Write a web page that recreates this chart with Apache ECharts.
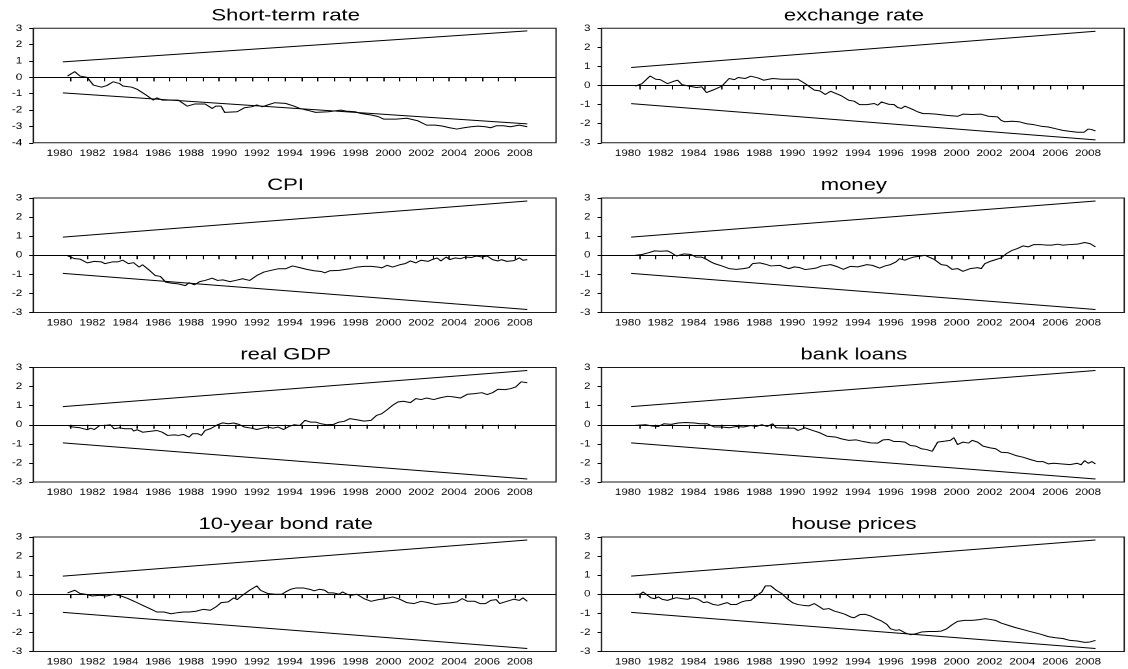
<!DOCTYPE html>
<html>
<head>
<meta charset="utf-8">
<script src="https://cdn.jsdelivr.net/npm/echarts@6/dist/echarts.min.js"></script>
<style>
  html, body { margin: 0; padding: 0; background: #fff; overflow: hidden; }
  #wrap { width: 1128px; height: 669px; overflow: hidden; position: relative; }
  #chart { height: 669px; transform-origin: 0 0; }
</style>
</head>
<body>
<div id="wrap"><div id="chart"></div></div>
<script>
// CUSUM of recursive residuals, quarterly, with 5% significance bounds.

const yearLabels = [1980, 1982, 1984, 1986, 1988, 1990, 1992, 1994, 1996, 1998, 2000, 2002, 2004, 2006, 2008];
const tickYears = [1980, 1981, 1982, 1983, 1984, 1985, 1986, 1987, 1988, 1989, 1990, 1991, 1992, 1993,
  1994, 1995, 1996, 1997, 1998, 1999, 2000, 2001, 2002, 2003, 2004, 2005, 2006, 2007];

// 5% bounds: straight lines from the first to the last observation
const boundYears = [1980.0, 2008.25];
const upperBound = [0.948, 2.844];
const lowerBound = [-0.948, -2.844];

const shortRateYears = [1980.28, 1980.72, 1981.04, 1981.48, 1981.85, 1982.35, 1982.67, 1983.06, 1983.43, 1983.65,
  1984.19, 1984.52, 1985.06, 1985.5, 1985.71, 1986.04, 1987.02, 1987.56, 1988.0, 1988.65, 1989.08, 1989.3, 1989.63,
  1989.84, 1990.6, 1991.04, 1991.47, 1991.8, 1992.13, 1992.45, 1992.89, 1993.54, 1994.08, 1994.41, 1994.84, 1995.38,
  1996.15, 1996.91, 1997.23, 1997.77, 1998.1, 1998.75, 1999.19, 1999.51, 2000.27, 2000.93, 2001.58, 2002.12, 2002.66,
  2003.1, 2003.53, 2003.97, 2004.4, 2004.84, 2005.27, 2005.71, 2006.03, 2006.36, 2006.79, 2007.23, 2007.77, 2008.25];
const shortRateValues = [0.08, 0.35, 0.08, 0.0, -0.47, -0.6, -0.5, -0.27, -0.37, -0.53,
  -0.6, -0.73, -1.08, -1.39, -1.25, -1.39, -1.39, -1.76, -1.63, -1.63, -1.9, -1.76, -1.76,
  -2.14, -2.1, -1.86, -1.8, -1.69, -1.8, -1.69, -1.55, -1.59, -1.76, -1.9, -2.0, -2.14,
  -2.1, -2.0, -2.06, -2.1, -2.2, -2.3, -2.4, -2.55, -2.55, -2.5, -2.65, -2.92, -2.92,
  -2.98, -3.08, -3.16, -3.08, -3.02, -2.98, -3.02, -3.08, -2.96, -2.96, -3.02, -2.92, -3.02];

const exchangeYears = [1980.26, 1980.66, 1981.15, 1981.5, 1981.77, 1982.21, 1982.65, 1982.83, 1983.09, 1983.53,
  1983.97, 1984.3, 1984.59, 1984.97, 1985.19, 1985.52, 1985.96, 1986.29, 1986.51, 1986.95, 1987.28, 1987.72, 1988.06,
  1988.61, 1989.16, 1989.93, 1990.15, 1990.59, 1990.92, 1991.15, 1991.48, 1991.81, 1992.14, 1992.47, 1992.8, 1993.24,
  1993.57, 1993.9, 1994.35, 1994.79, 1995.01, 1995.23, 1995.67, 1996.0, 1996.22, 1996.44, 1996.66, 1997.1, 1997.44,
  1997.77, 1998.1, 1998.54, 1999.2, 1999.86, 2000.19, 2000.75, 2001.3, 2001.74, 2002.29, 2002.51, 2002.73, 2003.17,
  2003.62, 2004.06, 2004.5, 2004.94, 2005.38, 2005.82, 2006.26, 2006.7, 2007.15, 2007.55, 2007.8, 2008.0, 2008.25];
const exchangeValues = [-0.03, 0.1, 0.5, 0.33, 0.31, 0.1, 0.24, 0.28, 0.05, -0.03,
  -0.1, -0.07, -0.37, -0.24, -0.16, -0.03, 0.37, 0.31, 0.42, 0.37, 0.49, 0.4, 0.28,
  0.37, 0.33, 0.33, 0.33, 0.1, -0.1, -0.24, -0.28, -0.47, -0.3, -0.42, -0.54, -0.77,
  -0.82, -1.0, -1.0, -0.94, -1.03, -0.86, -0.98, -1.0, -1.15, -1.2, -1.08, -1.24, -1.38,
  -1.47, -1.47, -1.5, -1.56, -1.61, -1.5, -1.52, -1.5, -1.61, -1.64, -1.82, -1.9, -1.87,
  -1.9, -2.0, -2.05, -2.13, -2.17, -2.26, -2.35, -2.4, -2.45, -2.45, -2.28, -2.3, -2.38];

const cpiYears = [1980.28, 1980.72, 1981.04, 1981.48, 1981.91, 1982.35, 1982.56, 1983.0, 1983.32, 1983.65,
  1983.98, 1984.3, 1984.63, 1984.85, 1985.28, 1985.61, 1985.93, 1986.26, 1986.58, 1987.02, 1987.45, 1987.67, 1988.0,
  1988.32, 1988.65, 1989.08, 1989.41, 1989.73, 1990.17, 1990.5, 1990.93, 1991.36, 1991.8, 1992.23, 1992.67, 1993.1,
  1993.54, 1993.97, 1994.41, 1994.84, 1995.28, 1995.71, 1995.93, 1996.25, 1996.8, 1997.45, 1997.88, 1998.32, 1998.75,
  1999.19, 1999.4, 1999.73, 2000.06, 2000.49, 2000.82, 2001.14, 2001.47, 2001.79, 2002.23, 2002.45, 2002.77, 2002.99,
  2003.32, 2003.53, 2003.86, 2004.18, 2004.51, 2004.84, 2005.16, 2005.49, 2005.81, 2006.14, 2006.47, 2006.68, 2007.01,
  2007.44, 2007.77, 2007.99, 2008.25];
const cpiValues = [-0.03, -0.18, -0.2, -0.4, -0.32, -0.35, -0.44, -0.35, -0.35, -0.26,
  -0.44, -0.39, -0.62, -0.5, -0.8, -1.06, -1.11, -1.41, -1.46, -1.5, -1.59, -1.44, -1.55,
  -1.38, -1.32, -1.2, -1.32, -1.29, -1.38, -1.32, -1.23, -1.32, -1.06, -0.88, -0.79, -0.71,
  -0.71, -0.56, -0.65, -0.74, -0.81, -0.85, -0.92, -0.81, -0.79, -0.71, -0.62, -0.58, -0.58,
  -0.62, -0.66, -0.53, -0.62, -0.5, -0.44, -0.3, -0.4, -0.26, -0.32, -0.23, -0.14, -0.3,
  -0.09, -0.23, -0.14, -0.18, -0.09, -0.12, -0.04, -0.09, -0.04, -0.23, -0.3, -0.23, -0.32,
  -0.28, -0.14, -0.26, -0.23];

const moneyYears = [1980.26, 1980.66, 1981.1, 1981.43, 1981.77, 1982.21, 1982.43, 1982.76, 1983.2, 1983.64,
  1983.97, 1984.3, 1984.52, 1984.86, 1985.08, 1985.52, 1985.96, 1986.4, 1986.84, 1987.17, 1987.39, 1987.83, 1988.17,
  1988.5, 1989.05, 1989.27, 1989.6, 1989.93, 1990.26, 1990.59, 1991.04, 1991.26, 1991.59, 1992.14, 1992.58, 1992.91,
  1993.35, 1993.79, 1994.35, 1994.68, 1995.12, 1995.45, 1995.78, 1996.11, 1996.33, 1996.66, 1996.88, 1997.21, 1997.55,
  1997.88, 1998.1, 1998.43, 1998.87, 1999.2, 1999.53, 1999.86, 2000.19, 2000.64, 2001.08, 2001.3, 2001.52, 2001.85,
  2002.18, 2002.51, 2002.84, 2003.17, 2003.5, 2003.84, 2004.17, 2004.5, 2004.94, 2005.27, 2005.6, 2005.93, 2006.26,
  2006.7, 2007.15, 2007.59, 2007.92, 2008.25];
const moneyValues = [0.0, 0.04, 0.14, 0.23, 0.21, 0.23, 0.14, -0.04, 0.07, 0.04,
  -0.1, -0.1, -0.18, -0.35, -0.44, -0.56, -0.7, -0.74, -0.7, -0.65, -0.44, -0.4, -0.47,
  -0.56, -0.53, -0.61, -0.7, -0.61, -0.65, -0.75, -0.7, -0.67, -0.56, -0.49, -0.61, -0.74,
  -0.58, -0.61, -0.49, -0.53, -0.67, -0.56, -0.49, -0.35, -0.18, -0.26, -0.18, -0.09, -0.05,
  0.0, -0.09, -0.21, -0.49, -0.53, -0.74, -0.7, -0.84, -0.7, -0.65, -0.7, -0.44, -0.32,
  -0.23, -0.14, 0.09, 0.25, 0.35, 0.49, 0.44, 0.56, 0.56, 0.53, 0.53, 0.58, 0.53,
  0.56, 0.58, 0.67, 0.61, 0.44];

const gdpYears = [1980.28, 1980.61, 1981.04, 1981.48, 1981.69, 1981.91, 1982.24, 1982.56, 1982.89, 1983.11,
  1983.43, 1983.76, 1984.19, 1984.3, 1984.52, 1984.85, 1985.28, 1985.71, 1986.04, 1986.37, 1986.8, 1987.02, 1987.34,
  1987.67, 1987.89, 1988.21, 1988.43, 1988.65, 1988.97, 1989.41, 1989.73, 1990.06, 1990.39, 1990.71, 1991.04, 1991.47,
  1991.8, 1992.13, 1992.45, 1992.78, 1993.1, 1993.43, 1993.75, 1994.08, 1994.41, 1994.73, 1995.06, 1995.38, 1995.71,
  1996.04, 1996.47, 1996.8, 1997.12, 1997.45, 1997.88, 1998.32, 1998.75, 1999.08, 1999.4, 1999.73, 2000.06, 2000.38,
  2000.71, 2001.14, 2001.47, 2001.79, 2002.12, 2002.56, 2002.99, 2003.42, 2003.75, 2004.18, 2004.62, 2005.05, 2005.49,
  2005.81, 2006.14, 2006.47, 2006.9, 2007.23, 2007.55, 2007.88, 2008.25];
const gdpValues = [-0.03, -0.12, -0.16, -0.26, -0.18, -0.25, -0.04, -0.04, 0.0, -0.21,
  -0.16, -0.21, -0.21, -0.33, -0.26, -0.39, -0.35, -0.3, -0.39, -0.56, -0.53, -0.56, -0.51,
  -0.65, -0.47, -0.47, -0.56, -0.3, -0.21, 0.0, 0.1, 0.05, 0.09, 0.02, -0.12, -0.18,
  -0.25, -0.18, -0.12, -0.18, -0.12, -0.25, -0.09, 0.0, -0.04, 0.23, 0.14, 0.14, 0.05,
  0.0, 0.02, 0.14, 0.18, 0.32, 0.26, 0.19, 0.23, 0.49, 0.58, 0.79, 1.02, 1.19,
  1.23, 1.16, 1.37, 1.32, 1.4, 1.32, 1.42, 1.49, 1.46, 1.4, 1.6, 1.63, 1.68,
  1.58, 1.68, 1.86, 1.84, 1.89, 1.98, 2.25, 2.2];

const loansYears = [1980.26, 1980.88, 1981.32, 1981.66, 1981.99, 1982.43, 1982.87, 1983.31, 1983.86, 1984.19,
  1984.63, 1985.08, 1985.52, 1985.96, 1986.4, 1986.84, 1987.28, 1987.61, 1987.95, 1988.28, 1988.61, 1988.83, 1989.49,
  1989.93, 1990.15, 1990.59, 1991.04, 1991.48, 1991.92, 1992.47, 1992.8, 1993.24, 1993.68, 1994.12, 1994.57, 1995.01,
  1995.34, 1995.67, 1996.0, 1996.33, 1996.66, 1996.99, 1997.33, 1997.66, 1997.99, 1998.32, 1998.65, 1999.09, 1999.42,
  1999.64, 1999.86, 2000.19, 2000.53, 2000.75, 2001.08, 2001.41, 2001.85, 2002.18, 2002.51, 2002.95, 2003.39, 2003.84,
  2004.28, 2004.72, 2005.05, 2005.38, 2005.71, 2006.15, 2006.7, 2007.15, 2007.37, 2007.59, 2007.81, 2008.03, 2008.25];
const loansValues = [-0.03, 0.0, -0.07, -0.09, 0.05, 0.02, 0.09, 0.12, 0.09, 0.05,
  0.05, -0.12, -0.12, -0.16, -0.09, -0.12, -0.04, -0.09, 0.0, -0.09, 0.05, -0.16, -0.18,
  -0.18, -0.3, -0.16, -0.3, -0.42, -0.6, -0.65, -0.74, -0.82, -0.79, -0.88, -0.95, -0.96,
  -0.79, -0.77, -0.88, -0.88, -0.91, -1.09, -1.12, -1.26, -1.3, -1.39, -0.91, -0.86, -0.82,
  -0.68, -1.04, -0.91, -0.96, -0.82, -0.91, -1.12, -1.21, -1.26, -1.44, -1.47, -1.61, -1.7,
  -1.82, -1.93, -1.93, -2.05, -2.02, -2.05, -2.09, -2.02, -2.1, -1.88, -2.02, -1.93, -2.05];

const bondYears = [1980.28, 1980.72, 1981.04, 1981.37, 1981.8, 1982.24, 1982.67, 1983.11, 1983.54, 1983.98,
  1984.41, 1984.85, 1985.28, 1985.71, 1986.15, 1986.58, 1987.02, 1987.34, 1987.67, 1988.1, 1988.54, 1988.97, 1989.3,
  1989.63, 1990.06, 1990.39, 1990.6, 1990.93, 1991.36, 1991.8, 1992.02, 1992.45, 1992.89, 1993.32, 1993.54, 1993.86,
  1994.19, 1994.62, 1995.06, 1995.28, 1995.6, 1995.93, 1996.15, 1996.47, 1996.8, 1997.01, 1997.34, 1997.56, 1997.88,
  1998.32, 1998.75, 1999.19, 1999.62, 2000.06, 2000.49, 2000.93, 2001.36, 2001.79, 2002.23, 2002.66, 2003.1, 2003.53,
  2003.97, 2004.29, 2004.62, 2005.05, 2005.38, 2005.71, 2006.03, 2006.36, 2006.58, 2007.01, 2007.44, 2007.77, 2007.99,
  2008.25];
const bondValues = [0.07, 0.21, 0.04, 0.0, -0.09, -0.05, -0.09, 0.0, -0.09, -0.23,
  -0.4, -0.58, -0.75, -0.93, -0.93, -1.02, -0.96, -0.93, -0.93, -0.89, -0.79, -0.84, -0.67,
  -0.44, -0.4, -0.19, -0.28, -0.05, 0.21, 0.44, 0.21, 0.04, 0.0, 0.0, 0.12, 0.26,
  0.33, 0.33, 0.25, 0.18, 0.26, 0.21, 0.07, 0.07, 0.0, 0.12, -0.02, -0.05, 0.0,
  -0.23, -0.37, -0.28, -0.23, -0.14, -0.26, -0.44, -0.49, -0.37, -0.44, -0.54, -0.49, -0.46,
  -0.4, -0.23, -0.37, -0.37, -0.49, -0.49, -0.32, -0.28, -0.49, -0.37, -0.26, -0.32, -0.19,
  -0.37];

const houseYears = [1980.26, 1980.55, 1980.73, 1980.99, 1981.21, 1981.43, 1981.66, 1981.88, 1982.21, 1982.54,
  1982.76, 1983.09, 1983.42, 1983.75, 1984.08, 1984.41, 1984.63, 1984.97, 1985.3, 1985.63, 1985.85, 1986.07, 1986.4,
  1986.73, 1986.95, 1987.28, 1987.61, 1987.95, 1988.17, 1988.5, 1988.83, 1989.16, 1989.49, 1989.82, 1990.15, 1990.48,
  1990.81, 1991.15, 1991.48, 1991.7, 1992.03, 1992.36, 1992.69, 1993.02, 1993.35, 1993.57, 1993.9, 1994.24, 1994.57,
  1994.9, 1995.23, 1995.56, 1995.78, 1996.11, 1996.33, 1996.66, 1996.99, 1997.33, 1997.66, 1998.1, 1998.54, 1998.87,
  1999.2, 1999.53, 1999.86, 2000.3, 2000.75, 2001.19, 2001.52, 2001.85, 2002.18, 2002.51, 2002.95, 2003.39, 2003.84,
  2004.17, 2004.5, 2004.94, 2005.38, 2005.82, 2006.26, 2006.7, 2007.15, 2007.59, 2007.92, 2008.25];
const houseValues = [0.0, 0.0, 0.12, -0.05, -0.19, -0.23, -0.14, -0.26, -0.32, -0.23,
  -0.18, -0.23, -0.26, -0.19, -0.26, -0.44, -0.4, -0.53, -0.58, -0.49, -0.44, -0.54, -0.54,
  -0.4, -0.35, -0.32, -0.09, 0.12, 0.44, 0.44, 0.21, 0.04, -0.23, -0.44, -0.54, -0.58,
  -0.61, -0.49, -0.67, -0.79, -0.75, -0.88, -0.96, -1.05, -1.19, -1.23, -1.07, -1.05, -1.14,
  -1.28, -1.4, -1.58, -1.81, -1.89, -1.86, -2.02, -2.12, -2.07, -1.98, -1.95, -1.95, -1.93,
  -1.81, -1.6, -1.42, -1.37, -1.37, -1.33, -1.28, -1.32, -1.37, -1.51, -1.63, -1.75, -1.85,
  -1.93, -2.0, -2.1, -2.22, -2.28, -2.32, -2.42, -2.45, -2.52, -2.5, -2.42];

const panels = [
  { title: 'Short-term rate', years: shortRateYears, values: shortRateValues, yMin: -4 },
  { title: 'exchange rate', years: exchangeYears, values: exchangeValues, yMin: -3 },
  { title: 'CPI', years: cpiYears, values: cpiValues, yMin: -3 },
  { title: 'money', years: moneyYears, values: moneyValues, yMin: -3 },
  { title: 'real GDP', years: gdpYears, values: gdpValues, yMin: -3 },
  { title: 'bank loans', years: loansYears, values: loansValues, yMin: -3 },
  { title: '10-year bond rate', years: bondYears, values: bondValues, yMin: -3 },
  { title: 'house prices', years: houseYears, values: houseValues, yMin: -3 }
];

// The graph is drawn on a narrower canvas and stretched horizontally.
const PAGE_W = 1128;
const STRETCH = 1.3;
const CANVAS_W = Math.round(PAGE_W / STRETCH);
const sx = PAGE_W / CANVAS_W;
const dom = document.getElementById('chart');
dom.style.width = CANVAS_W + 'px';
dom.style.transform = 'scaleX(' + sx + ')';
const cx = v => v / sx;

// plot frames (page pixels)
const colLeft = [33.3, 601.5];
const plotW = 522.7;
const rowTop = [28.3, 198, 367.5, 537];
const plotH = 114.5;
const X_MIN = 1978.2, X_MAX = 2010.0;
const LABEL_SHIFT = -0.2, TICK_SHIFT = 0.5;

const FONT = '"Liberation Sans", Arial, Helvetica, sans-serif';
const INK = '#000';

const grid = [], xAxis = [], yAxis = [], series = [], title = [];
panels.forEach((p, i) => {
  const col = i % 2, row = Math.floor(i / 2);
  const left = colLeft[col], top = rowTop[row];
  grid.push({
    left: cx(left), top: top, width: cx(plotW), height: plotH,
    show: true, borderColor: '#1a1a1a', borderWidth: 1, backgroundColor: 'transparent'
  });
  title.push({
    text: p.title, left: cx(left + plotW / 2 - 9), top: top - 21, textAlign: 'center', padding: 0,
    textStyle: { fontFamily: FONT, fontSize: 17, fontWeight: 'normal', color: INK }
  });
  xAxis.push({
    gridIndex: i, type: 'value', min: X_MIN, max: X_MAX,
    axisLine: { show: false }, splitLine: { show: false },
    axisTick: { show: true, length: 4, lineStyle: { color: INK, width: 1 },
      customValues: tickYears.map(y => y + TICK_SHIFT) },
    axisLabel: { show: true, margin: 6, fontFamily: FONT, fontSize: 9, color: INK,
      customValues: yearLabels.map(y => y + LABEL_SHIFT),
      formatter: v => String(Math.round(v - LABEL_SHIFT)) }
  });
  yAxis.push({
    gridIndex: i, type: 'value', min: p.yMin, max: 3, interval: 1,
    axisLine: { show: false }, splitLine: { show: false },
    axisTick: { show: true, length: cx(4), lineStyle: { color: INK, width: 1 } },
    axisLabel: { margin: cx(11), fontFamily: FONT, fontSize: 9, color: INK }
  });
  const line = { width: 1, color: INK };
  series.push({
    type: 'line', xAxisIndex: i, yAxisIndex: i, showSymbol: false, symbol: 'none',
    data: p.years.map((y, k) => [y, p.values[k]]), lineStyle: line, silent: true,
    markLine: { silent: true, symbol: 'none', label: { show: false },
      lineStyle: { color: INK, width: 1, type: 'solid' }, data: [{ yAxis: 0 }] }
  });
  series.push({
    type: 'line', xAxisIndex: i, yAxisIndex: i, symbol: 'none', silent: true,
    data: boundYears.map((y, k) => [y, upperBound[k]]), lineStyle: line
  });
  series.push({
    type: 'line', xAxisIndex: i, yAxisIndex: i, symbol: 'none', silent: true,
    data: boundYears.map((y, k) => [y, lowerBound[k]]), lineStyle: line
  });
});

const chart = echarts.init(dom, null, { renderer: 'canvas', devicePixelRatio: 2 });
chart.setOption({
  animation: false,
  backgroundColor: '#fff',
  title, grid, xAxis, yAxis, series
});
</script>
</body>
</html>
